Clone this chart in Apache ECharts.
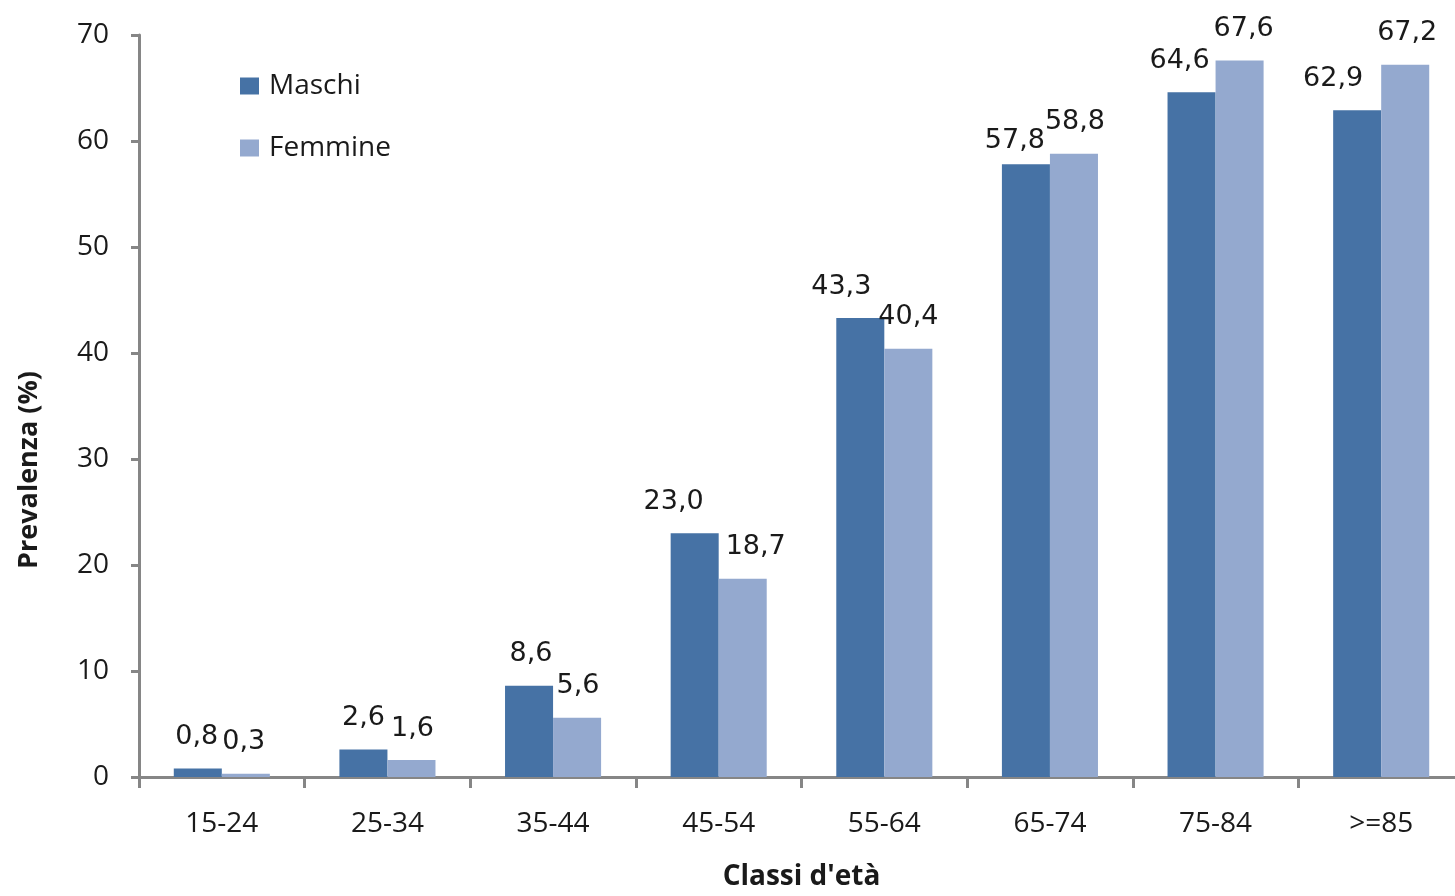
<!DOCTYPE html>
<html>
<head>
<meta charset="utf-8">
<script src="https://cdn.jsdelivr.net/npm/echarts@6/dist/echarts.min.js"></script>
<style>
  html, body { margin: 0; padding: 0; background: #fff; overflow: hidden; }
  /* the plot area runs slightly past the right edge of the window */
  #chart { width: 1466px; height: 896px; }
</style>
</head>
<body>
<div id="chart"></div>
<script>
// Age classes and prevalence (%) by sex
const categories = ['15-24', '25-34', '35-44', '45-54', '55-64', '65-74', '75-84', '>=85'];
const maschi = [0.8, 2.6, 8.6, 23.0, 43.3, 57.8, 64.6, 62.9];
const femmine = [0.3, 1.6, 5.6, 18.7, 40.4, 58.8, 67.6, 67.2];
const yTicks = { min: 0, max: 70, interval: 10 };

// Small label nudges so neighbouring value labels do not collide
const maschiLabelOffset = [[-1, 0], [0, 0], [2, 0], [-21, 0], [-19, 0], [-11, 8], [-12, 0], [-24, 0]];
const femmineLabelOffset = [[-2, 0], [1, 0], [1, 0], [13, 0], [0, 0], [1, 0], [4, 0], [2, 0]];

const fmt = v => v.toFixed(1).replace('.', ',');
const axisGray = '#868686';
const textColor = '#1a1a1a';
const baseFont = 'Open Sans';

function barData(values, offsets) {
  return values.map((v, i) => ({ value: v, label: { offset: offsets[i] } }));
}

const labelStyle = {
  show: true,
  position: 'top',
  distance: 18,
  fontFamily: 'DejaVu Sans',
  fontSize: 27,
  color: textColor,
  formatter: p => fmt(p.value)
};

const chart = echarts.init(document.getElementById('chart'), null, { renderer: 'canvas' });
chart.setOption({
  animation: false,
  backgroundColor: '#ffffff',
  grid: { left: 139, top: 35, right: 2, height: 744, containLabel: false },
  legend: {
    orient: 'vertical',
    left: 235,
    top: 67,
    itemWidth: 19,
    itemHeight: 17,
    itemGap: 34,
    icon: 'rect',
    textStyle: { fontFamily: baseFont, fontSize: 28, color: textColor, padding: [0, 0, 0, 5] },
    data: ['Maschi', 'Femmine']
  },
  xAxis: {
    type: 'category',
    data: categories,
    name: "Classi d'età",
    nameLocation: 'middle',
    nameGap: 86,
    nameTextStyle: { fontFamily: baseFont, fontWeight: 'bold', fontSize: 28, color: textColor, verticalAlign: 'top' },
    axisLine: { lineStyle: { color: axisGray, width: 3 } },
    axisTick: { show: true, alignWithLabel: false, length: 11, lineStyle: { color: axisGray, width: 3 } },
    axisLabel: { fontFamily: baseFont, fontSize: 28, color: textColor, margin: 33 },
    splitLine: { show: false }
  },
  yAxis: {
    type: 'value',
    min: yTicks.min,
    max: yTicks.max,
    interval: yTicks.interval,
    name: 'Prevalenza (%)',
    nameLocation: 'middle',
    nameGap: 96,
    nameRotate: 90,
    nameTextStyle: { fontFamily: baseFont, fontWeight: 'bold', fontSize: 27, color: textColor, padding: [0, 128, 0, 0] },
    axisLine: { show: true, lineStyle: { color: axisGray, width: 3 } },
    axisTick: { show: true, length: 8, lineStyle: { color: axisGray, width: 3 } },
    axisLabel: { fontFamily: baseFont, fontSize: 28, color: textColor, margin: 30 },
    splitLine: { show: false }
  },
  series: [
    {
      name: 'Maschi',
      type: 'bar',
      data: barData(maschi, maschiLabelOffset),
      itemStyle: { color: '#4672A5' },
      barGap: '0%',
      barCategoryGap: '42%',
      label: labelStyle
    },
    {
      name: 'Femmine',
      type: 'bar',
      data: barData(femmine, femmineLabelOffset),
      itemStyle: { color: '#94A9CF' },
      barGap: '0%',
      barCategoryGap: '42%',
      label: labelStyle
    }
  ]
});
</script>
</body>
</html>
